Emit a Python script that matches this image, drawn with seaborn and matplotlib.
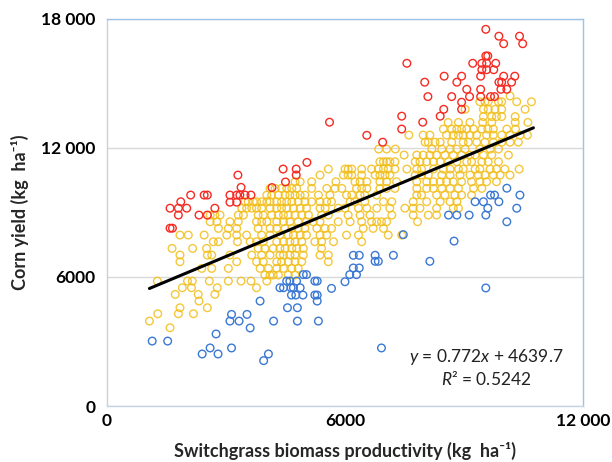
import matplotlib
matplotlib.use("Agg")
import matplotlib.pyplot as plt
import pandas as pd
import seaborn as sns

# ---------------- data ----------------
red_x = [9550, 9880, 10000, 10400, 10480, 9550, 9600, 9220, 9450, 9570, 9800, 7560,
         9450, 9570, 9750, 8500, 8940, 9420, 10000, 10280, 8010, 8820, 9880, 9950, 10200,
         9070, 9420, 9930, 10080, 8090, 8690, 9140, 9420, 9670, 9770, 8940, 8490, 8940,
         7430, 8400, 7430, 7960, 5610, 6550, 6950, 3300, 3380, 4160, 4500, 4440, 2110,
         2450, 2530, 3100, 3270, 3350, 3480, 3630, 1860, 3100, 3270, 1590, 1800, 2010,
         2720, 1800, 2320, 2530, 1590, 1650, 4770, 4770, 5040]
red_y = [17520, 17200, 16850, 17200, 16850, 16280, 16280, 15940, 15940, 15940, 15940, 15940,
         15640, 15640, 15640, 15340, 15340, 15340, 15340, 15340, 15060, 15060, 15060, 15060, 15060,
         14730, 14730, 14730, 14730, 14390, 14390, 14390, 14390, 14390, 14390, 14130, 13800, 13800,
         13480, 13480, 12880, 13200, 13200, 12590, 12270, 10740, 10170, 10160, 10420, 11020, 9810,
         9810, 9810, 9810, 9810, 9810, 9810, 9810, 9500, 9480, 9480, 9200, 9200, 9200,
         9200, 8880, 8880, 8880, 8270, 8270, 11020, 10740, 11330]

blue_x = [1140, 1530, 2400, 2600, 2800, 3140, 2750, 3100, 3330, 3140, 3530, 3610, 3860,
          3950, 4070, 4200, 4550, 4800, 4800, 5330, 5660, 6000, 5300,
          4950, 5030, 4530, 4610, 4780, 5240, 5300, 4360, 4450, 4640, 4700, 4870, 4650,
          4760, 4940, 5240, 5300,
          6120, 6290, 6210, 6360, 6210, 6360, 6760, 6760, 6840, 7220, 7470, 8140, 8750,
          8610, 8820, 9130, 9280, 9490, 9550, 9600, 9670, 9770, 9880, 10080, 10410, 10330,
          10080, 9550, 6920]
blue_y = [3020, 3020, 2420, 2700, 2420, 2700, 3350, 3950, 3950, 4260, 4260, 3630, 4880,
          2110, 2420, 3950, 4570, 4570, 3950, 3950, 5470, 5780, 4880,
          6110, 6110, 5810, 5810, 5810, 5810, 5810, 5500, 5500, 5500, 5500, 5500, 5160,
          5160, 5160, 5160, 5160,
          6110, 6110, 6420, 6420, 7010, 7010, 7010, 6730, 6730, 7010, 7970, 6730, 7670,
          8880, 8880, 8880, 9500, 9500, 8880, 9200, 9810, 9810, 9500, 10130, 9810, 9200,
          8570, 5490, 2700]

# yellow points are arranged in yield rows: one y level per row, with its x values
yellow_levels = [14420, 14150, 13800, 13460, 13190, 12880, 12600, 12270, 11950, 11670,
                 11360, 11020, 10740, 10430, 10120, 9810, 9500, 9200, 8880, 8570, 8260,
                 7950, 7640, 7330, 7020, 6710, 6400, 6090, 5810, 5500, 5190, 4880, 4570,
                 4290, 3950, 3640]
yellow_rows = [
    [10160],
    [9400, 9530, 9610, 9870, 9950, 10330, 10700],
    [9030, 9490, 9610, 9780, 9950, 10540],
    [9490, 9700, 9820, 9950, 10290],
    [8600, 8860, 9150, 9470, 9700, 10290, 10610],
    [8480, 8690, 8820, 8940, 9070, 9240, 9450, 9600, 9740, 10080, 10300],
    [7610, 7970, 8140, 8560, 8730, 8860, 8980, 9150, 9320, 9570, 9740, 9950, 10160, 10410, 10600],
    [8020, 8100, 8270, 8400, 8690, 8980, 9110, 9320, 9530, 9740, 9950, 10160, 10370],
    [6850, 7050, 7270, 8190, 8440, 8650, 8820, 9030, 9400, 9660, 9870],
    [7490, 7810, 7970, 8140, 8310, 8520, 8730, 8940, 9150, 9280, 9490, 9700, 10120],
    [6880, 6970, 7050, 7130, 7260, 7770, 7890, 8060, 8230, 8400, 8610, 8820, 9070, 9190,
     9450, 9610, 9870],
    [5580, 6000, 6080, 6170, 6420, 6670, 6840, 6970, 7090, 7260, 7560, 7810, 7930, 8230,
     8480, 8650, 8860, 8980, 9280, 9400, 9660, 9820, 10030, 10390],
    [5370, 5960, 6080, 6170, 6420, 6760, 6880, 7010, 7130, 7770, 7930, 8100, 8440, 8650,
     8900, 9150, 9360, 9530, 9740, 9910, 10160],
    [4740, 4870, 5160, 5770, 6250, 6380, 6550, 6880, 7050, 7300, 7810, 8060, 8230, 8400,
     8560, 8730, 8940, 9190, 9400, 9570, 9820],
    [4110, 4240, 4400, 4530, 4660, 4780, 5160, 5540, 5750, 5920, 6290, 6420, 6550, 6880,
     7050, 7260, 7810, 8060, 8230, 8440, 8650, 8860, 9240, 9450],
    [4030, 4150, 4320, 4490, 4610, 4740, 4870, 4990, 5330, 5620, 6040, 6170, 6380, 6500,
     6800, 7810, 7930, 8310, 8520, 8770, 8940, 9190],
    [3480, 3560, 3690, 3770, 3900, 4030, 4110, 4280, 4400, 4530, 4660, 4820, 4990, 5160,
     5370, 5540, 5660, 6130, 6250, 6500, 6970, 7180, 7720, 8060, 8400, 8650, 8820],
    [3400, 3520, 3650, 3770, 3900, 4110, 4280, 4400, 4530, 4700, 4870, 5030, 5370, 5500,
     5830, 6000, 6340, 6550, 6800, 7130, 7510, 7720, 7890, 8310, 8730, 8860],
    [2600, 2720, 2850, 3310, 3440, 3810, 3940, 4150, 4320, 4450, 4570, 4740, 4910, 5080,
     5410, 5580, 6080, 6380, 6630, 7180, 7720, 8100, 8310],
    [2600, 2770, 3100, 3310, 3770, 3900, 4030, 4280, 4450, 4610, 4820, 5030, 5200, 5370,
     5830, 6130, 6420, 6670, 6800, 6920, 7050, 7830],
    [2810, 3060, 3270, 3810, 4110, 4280, 4490, 4660, 4820, 4990, 5290, 5500, 5660, 6460,
     6710, 6970],
    [1840, 2050, 2450, 3020, 3270, 3520, 3900, 4110, 4360, 4570, 4700, 4870, 5030, 5370,
     5540, 6040, 6340, 7090, 7430],
    [2680, 2810, 3290, 3610, 3770, 3940, 4280, 4450, 4610, 4740, 4910, 5240, 5410, 5710, 6420],
    [1640, 2160, 2510, 3810, 3980, 4190, 4360, 4490, 4660, 4780, 4950, 5410],
    [1840, 2530, 2640, 3100, 3650, 3900, 4110, 4360, 4450, 4610, 4740, 4950, 5370, 5580],
    [1840, 3270, 3770, 3940, 4280, 4400, 4570, 4740, 4910, 5580],
    [2390, 2640, 3060, 3860, 4070, 4280, 4450, 4660, 4820],
    [3980, 4110, 4190, 4320, 4570, 4740],
    [1270, 2030, 2150, 2580, 3060, 3380, 3630, 4030],
    [1900, 2130, 2780, 3770],
    [1720, 2300, 2720],
    [2320],
    [1840, 2530],
    [1280, 1800, 2180],
    [1070],
    [1590],
]

# fitted trend line end points (y = 0.772x + 4639.7)
trend_x = [1070, 10750]
trend_y = [5466, 12938]

x_ticks = [0, 6000, 12000]
x_tick_labels = ["0", "6000", "12 000"]
y_ticks = [0, 6000, 12000, 18000]
y_tick_labels = ["0", "6000", "12 000", "18 000"]

x_label = "Switchgrass biomass productivity (kg  ha\u207b\u00b9)"
y_label = "Corn yield (kg  ha\u207b\u00b9)"
eq_text = r"$y$ = 0.772$x$ + 4639.7"
r2_text = r"$R$² = 0.5242"

# ---------------- styling ----------------
sns.set_style("white")
plt.rcParams["font.family"] = ["Lato", "DejaVu Sans"]
plt.rcParams["mathtext.fontset"] = "custom"
plt.rcParams["mathtext.rm"] = "Lato"
plt.rcParams["mathtext.it"] = "Lato:italic"
plt.rcParams["mathtext.bf"] = "Lato:bold"

yellow_x = [x for row in yellow_rows for x in row]
yellow_y = [lvl for lvl, row in zip(yellow_levels, yellow_rows) for _ in row]

df = pd.DataFrame({
    "x": yellow_x + red_x + blue_x,
    "y": yellow_y + red_y + blue_y,
    "group": ["yellow"] * len(yellow_x) + ["red"] * len(red_x) + ["blue"] * len(blue_x),
})
colors = {"yellow": "#F2BE1A", "red": "#F52A22", "blue": "#3A78D4"}

fig = plt.figure(figsize=(6.12, 4.62), dpi=100)
ax = fig.add_axes([0.1748, 0.1212, 0.7778, 0.8377])

for grp in ["yellow", "red", "blue"]:
    sub = df[df["group"] == grp]
    sns.scatterplot(data=sub, x="x", y="y", ax=ax, s=30, marker="o",
                    facecolor="none", edgecolor=colors[grp], linewidth=1.0,
                    zorder=3, legend=False)
for coll, grp in zip(ax.collections, ["yellow", "red", "blue"]):
    coll.set_facecolor("none")
    coll.set_edgecolor(colors[grp])
    coll.set_alpha(0.85 if grp == "yellow" else 1.0)

sns.lineplot(x=trend_x, y=trend_y, ax=ax, color="black", linewidth=2.2, zorder=5)

ax.set_xlim(0, 12000)
ax.set_ylim(0, 18000)
ax.set_xticks(x_ticks)
ax.set_xticklabels(x_tick_labels, fontsize=12.5, fontweight="bold")
ax.set_yticks(y_ticks)
ax.set_yticklabels(y_tick_labels, fontsize=12.5, fontweight="bold")
ax.tick_params(axis="both", length=0, colors="black")
ax.tick_params(axis="y", pad=8)
ax.tick_params(axis="x", pad=5)

ax.yaxis.grid(True, color="#D9D9D9", linewidth=1.0, zorder=0)
ax.xaxis.grid(False)
ax.set_axisbelow(True)

ax.spines["left"].set_color("#D0D0D0")
ax.spines["bottom"].set_color("#C5D3E6")
ax.spines["top"].set_color("#9DC3E6")
ax.spines["right"].set_color("#9DC3E6")
for sp in ax.spines.values():
    sp.set_linewidth(1.0)
    sp.set_visible(True)

ax.set_xlabel(x_label, fontsize=13, fontweight="bold", labelpad=9)
ax.set_ylabel(y_label, fontsize=13, fontweight="bold", labelpad=9)

ax.text(9555, 2280, eq_text, fontsize=12.5, ha="center", va="center", color="#222222")
ax.text(9555, 1250, r2_text, fontsize=12.5, ha="center", va="center", color="#222222")

fig.savefig("out.png", dpi=100)
